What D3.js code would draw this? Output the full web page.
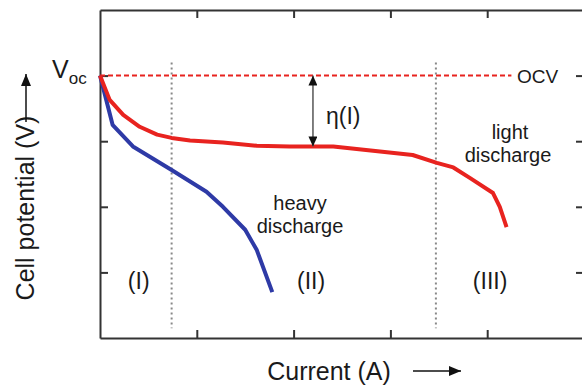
<!DOCTYPE html>
<html>
<head>
<meta charset="utf-8">
<script src="https://cdn.jsdelivr.net/npm/d3@7"></script>
<style>
  body { margin: 0; background: #fff; }
  text { font-family: "Liberation Sans", Arial, sans-serif; fill: #1a1a1a; }
</style>
</head>
<body>
<svg id="chart"></svg>
<script>
// light discharge (red) curve: current, potential
const lightX = [0, 0.10, 0.24, 0.41, 0.59, 0.74, 0.93, 1.27, 1.62, 1.96, 2.41, 3.23, 3.48, 3.65, 3.82, 4.06, 4.13, 4.20];
const lightY = [4.0, 3.63, 3.40, 3.22, 3.10, 3.05, 3.01, 2.98, 2.93, 2.92, 2.92, 2.79, 2.67, 2.60, 2.44, 2.21, 2.00, 1.69];
// heavy discharge (blue) curve
const heavyX = [0, 0.13, 0.34, 0.74, 1.10, 1.27, 1.50, 1.62, 1.78];
const heavyY = [4.0, 3.25, 2.92, 2.56, 2.23, 2.00, 1.65, 1.34, 0.70];
const ocv = 4.0;
const regionBounds = [0.74, 3.47];
const regionLabels = ["(I)", "(II)", "(III)"];
const regionLabelX = [0.40, 2.18, 4.03];
const etaX = 2.2;
const tickVals = [1, 2, 3, 4];

const width = 582, height = 385;
const margin = { top: 10, left: 100 };
const plotW = 484, plotH = 328;

const svg = d3.select("#chart").attr("width", width).attr("height", height);

const x = d3.scaleLinear().domain([0, 5]).range([margin.left, margin.left + plotW]);
const y = d3.scaleLinear().domain([0, 5]).range([margin.top + plotH, margin.top]);

const defs = svg.append("defs");
[["head", 12, 10], ["small", 10, 9]].forEach(([id, w, h]) => {
  defs.append("marker")
    .attr("id", id)
    .attr("viewBox", `0 0 ${w} ${h}`)
    .attr("refX", w).attr("refY", h / 2)
    .attr("markerWidth", w).attr("markerHeight", h)
    .attr("markerUnits", "userSpaceOnUse")
    .attr("orient", "auto-start-reverse")
    .append("path").attr("d", `M0,0 L${w},${h / 2} L0,${h} Z`).attr("fill", "#111");
});

//frame with inward ticks
const axes = [
  [d3.axisBottom(x), `translate(0,${y(0)})`],
  [d3.axisTop(x), `translate(0,${y(5)})`],
  [d3.axisLeft(y), `translate(${x(0)},0)`],
  [d3.axisRight(y), `translate(${x(5)},0)`]
];
axes.forEach(([ax, tr]) => {
  const g = svg.append("g").attr("transform", tr)
    .call(ax.tickValues(tickVals).tickFormat("").tickSizeInner(-8).tickSizeOuter(0));
  g.select(".domain").attr("stroke", "#333").attr("stroke-width", 2);
  g.selectAll(".tick line").attr("stroke", "#333").attr("stroke-width", 2);
});

//region separators
svg.selectAll(".sep").data(regionBounds).enter().append("line")
  .attr("x1", d => x(d)).attr("x2", d => x(d))
  .attr("y1", y(4.2)).attr("y2", y(0.15))
  .attr("stroke", "#888").attr("stroke-width", 2)
  .attr("stroke-dasharray", "2,3");

//OCV line
svg.append("line")
  .attr("x1", x(0)).attr("x2", x(4.25))
  .attr("y1", y(ocv)).attr("y2", y(ocv))
  .attr("stroke", "#e8231f").attr("stroke-width", 2)
  .attr("stroke-dasharray", "5,3");

const line = d3.line().x(d => x(d[0])).y(d => y(d[1]));

svg.append("path")
  .datum(d3.zip(heavyX, heavyY))
  .attr("d", line)
  .attr("fill", "none").attr("stroke", "#2e3aa6").attr("stroke-width", 4)
  .attr("stroke-linejoin", "round");

svg.append("path")
  .datum(d3.zip(lightX, lightY))
  .attr("d", line)
  .attr("fill", "none").attr("stroke", "#e8231f").attr("stroke-width", 4)
  .attr("stroke-linejoin", "round");

//eta arrow
const etaY = 2.92;
svg.append("line")
  .attr("x1", x(etaX)).attr("x2", x(etaX))
  .attr("y1", y(ocv)).attr("y2", y(etaY))
  .attr("stroke", "#555").attr("stroke-width", 1.5)
  .attr("marker-start", "url(#small)").attr("marker-end", "url(#small)");
svg.append("text").attr("x", x(etaX) + 13).attr("y", 124)
  .style("font-size", "23px").text("η(I)");

//labels
svg.append("text").attr("x", 517).attr("y", 83).style("font-size", "19px").text("OCV");

const voc = svg.append("text").attr("x", 52).attr("y", 78).style("font-size", "25px");
voc.append("tspan").text("V");
voc.append("tspan").attr("dy", 6).style("font-size", "17px").text("oc");

svg.selectAll(".region").data(regionLabels).enter().append("text")
  .attr("x", (d, i) => x(regionLabelX[i])).attr("y", 289)
  .attr("text-anchor", "middle").style("font-size", "23px").text(d => d);

[["heavy", 300, 210], ["discharge", 300, 233], ["light", 510, 139], ["discharge", 508, 162]]
  .forEach(([t, tx, ty]) => {
    svg.append("text").attr("x", tx).attr("y", ty)
      .attr("text-anchor", "middle").style("font-size", "20px").text(t);
  });

//axis titles with arrows
svg.append("text").attr("x", 329).attr("y", 380)
  .attr("text-anchor", "middle").style("font-size", "25px").text("Current (A)");
svg.append("line").attr("x1", 413).attr("x2", 461).attr("y1", 371).attr("y2", 371)
  .attr("stroke", "#111").attr("stroke-width", 1.5).attr("marker-end", "url(#head)");

svg.append("text").attr("transform", "translate(34,208) rotate(-90)")
  .attr("text-anchor", "middle").style("font-size", "25px").text("Cell potential (V)");
svg.append("line").attr("x1", 26).attr("x2", 26).attr("y1", 122).attr("y2", 74)
  .attr("stroke", "#111").attr("stroke-width", 1.5).attr("marker-end", "url(#head)");
</script>
</body>
</html>
